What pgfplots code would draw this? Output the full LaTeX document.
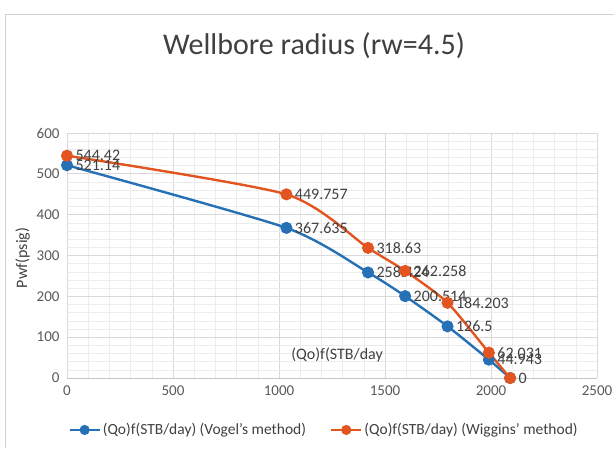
\documentclass[border=0pt]{standalone}
\usepackage{pgfplots}
\pgfplotsset{compat=1.18}
\usepackage{fontspec}
\setmainfont{Carlito}
\definecolor{vblue}{RGB}{38,112,181}
\definecolor{worange}{RGB}{226,85,32}
\definecolor{lbl}{RGB}{64,64,64}
\definecolor{tck}{RGB}{89,89,89}
\begin{document}
\begin{tikzpicture}[x=1pt,y=1pt]
\path[use as bounding box] (0,0) rectangle (614,-448);
\draw[gray!35, line width=1pt] (5,-448) -- (5,-14) -- (614,-14);
\node[font=\fontsize{30}{34}\selectfont, text=lbl] at (314,-46) {Wellbore radius (rw=4.5)};
\begin{axis}[
  at={(67pt,-378pt)}, anchor=south west,
  scale only axis, width=530pt, height=245pt,
  xmin=0, xmax=2500, ymin=0, ymax=600,
  xtick={0,500,...,2500}, ytick={0,100,...,600},
  minor x tick num=4, minor y tick num=4,
  grid=both,
  major grid style={draw=gray!30, line width=0.8pt},
  minor grid style={draw=gray!15, line width=0.6pt},
  axis line style={draw=none},
  major tick length=0pt, minor tick length=0pt,
  tick label style={font=\fontsize{15}{17}\selectfont, text=tck},
  /pgf/number format/assume math mode=true,
  /pgf/number format/1000 sep={},
  xticklabel style={yshift=-4pt},
  yticklabel style={xshift=-4pt},
  ylabel={Pwf(psig)},
  ylabel style={font=\fontsize{16}{18}\selectfont, text=lbl, at={(ticklabel cs:0.49)}, yshift=0pt},
  clip=false,
  nodes near coords,
  point meta=explicit symbolic,
  every node near coord/.append style={anchor=west, xshift=4pt, font=\fontsize{16}{18}\selectfont, text=lbl},
  legend style={at={(0.485,-0.212)}, anchor=center, draw=none, fill=none,
    legend columns=2, font=\fontsize{15.5}{18}\selectfont, text=lbl,
    /tikz/every even column/.append style={column sep=22pt}},
  legend image code/.code={\draw[mark repeat=2,mark phase=2, mark size=3.8pt] plot coordinates {(0pt,0pt) (15pt,0pt) (30pt,0pt)};},
]
\draw[gray!45, line width=0.8pt] (axis cs:0,0) -- (axis cs:2500,0);
\addplot[vblue, line width=2.4pt, smooth, tension=0.4, mark=*, mark size=4.8pt, mark options={solid}]
  table[meta=lab] {
x y lab
0 521.14 521.14
1035 367.635 367.635
1420 258.424 258.424
1595 200.514 200.514
1795 126.5 126.5
1990 44.943 44.943
2090 0 {}
};
\addlegendentry{(Qo)f(STB/day) (Vogel’s method)}
\addplot[worange, line width=2.4pt, smooth, tension=0.4, mark=*, mark size=4.8pt, mark options={solid}]
  table[meta=lab] {
x y lab
0 544.42 544.42
1035 449.757 449.757
1420 318.63 318.63
1595 262.258 262.258
1795 184.203 184.203
1990 62.031 62.031
2090 0 0
};
\addlegendentry{(Qo)f(STB/day) (Wiggins’ method)}
\node[font=\fontsize{16}{18}\selectfont, text=lbl] at (axis cs:1274,56) {(Qo)f(STB/day};
\end{axis}
\end{tikzpicture}
\end{document}
